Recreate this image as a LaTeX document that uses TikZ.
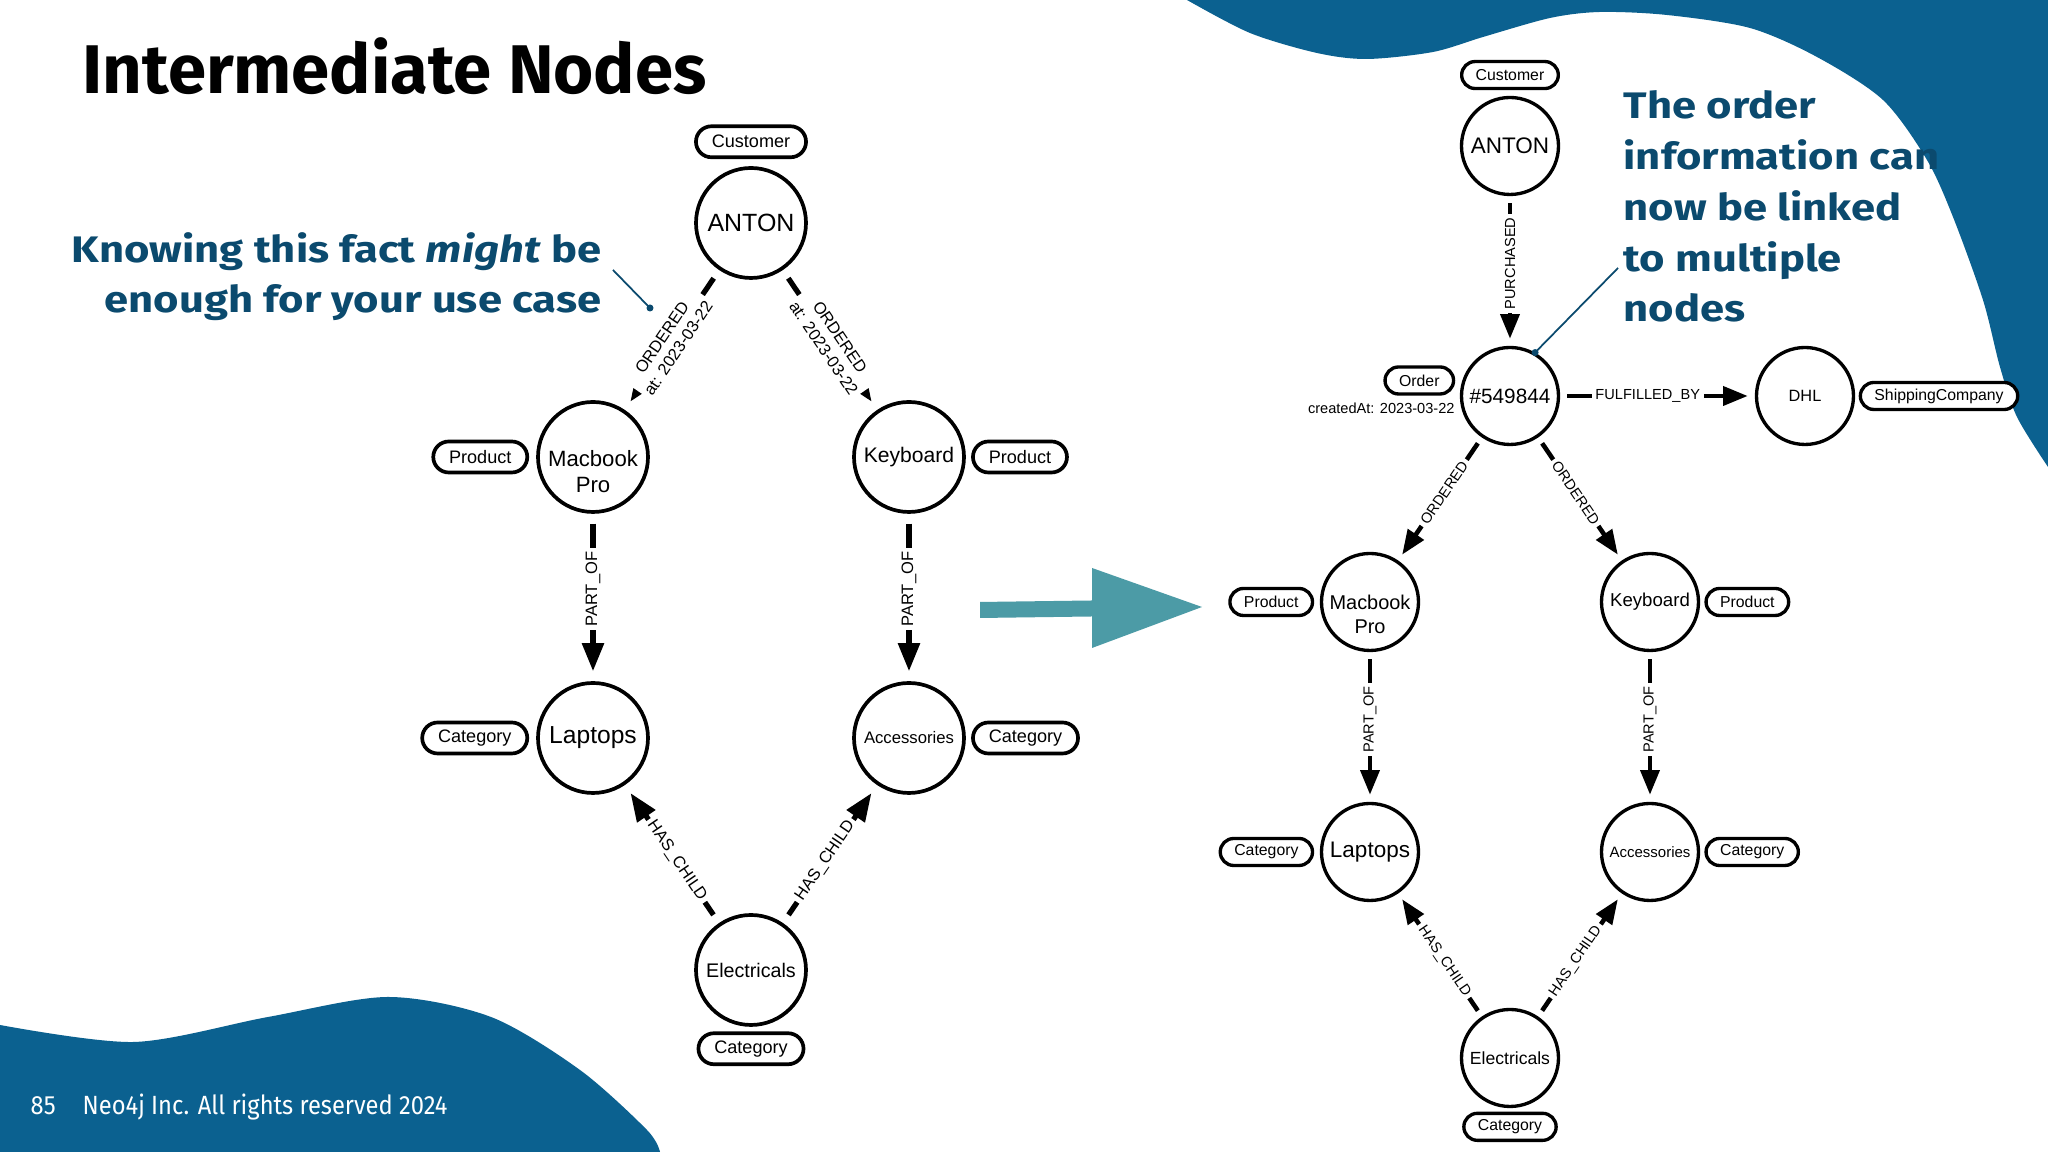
\documentclass[tikz,border=0pt]{standalone}
\usepackage{fontspec}
\setmainfont{Fira Sans}
\newfontfamily\neofont{Liberation Sans}
\newfontfamily\notefont[FakeStretch=1.18]{Fira Sans}
\newfontfamily\footfont[FakeStretch=0.9]{Fira Sans}
\usepackage{xcolor}
\usetikzlibrary{arrows.meta, positioning}
\definecolor{slideblue}{HTML}{0B6190}
\definecolor{inkblue}{HTML}{0B4A6E}
\definecolor{arrowteal}{HTML}{4C9BA6}
\newcommand{\fsz}[2]{\fontsize{#1}{#2}\selectfont}
\newcommand{\twolines}[3]{\raisebox{#1}[0pt][0pt]{\begin{tabular}{@{}c@{}}#2\\#3\end{tabular}}}

\begin{document}
\begin{tikzpicture}[>={Triangle[length=8pt, width=6pt]},
		lent/.style={circle, draw, line width=1.05pt, fill=white, inner sep=0pt, minimum size=1.1cm, align=center},
		rent/.style={circle, draw, line width=0.95pt, fill=white, inner sep=0pt, minimum size=0.97cm, align=center},
		ltag/.style={rectangle, draw, line width=1.05pt, fill=white, rounded corners=0.155cm, minimum height=0.31cm, inner xsep=4.5pt, inner ysep=0pt, font=\neofont\fsz{5.15}{6}},
		rtag/.style={rectangle, draw, line width=0.95pt, fill=white, rounded corners=0.135cm, minimum height=0.27cm, inner xsep=4pt, inner ysep=0pt, font=\neofont\fsz{4.5}{5.2}},
		lrel/.style={->, line width=1.5pt, shorten <=2.8pt, shorten >=2.8pt},
		rrel/.style={-{Triangle[length=7pt, width=5.3pt]}, line width=1.3pt, shorten <=2pt, shorten >=2pt},
		llbl/.style={pos=0.45, sloped, fill=white, inner sep=1pt, align=center, font=\neofont\fsz{4.7}{5.6}},
		rlbl/.style={pos=0.45, sloped, fill=white, inner sep=1pt, font=\neofont\fsz{4.15}{5}},
		note/.style={inner sep=0pt, inkblue, font=\notefont\fsz{10.5}{14.5}\bfseries},
		callout/.style={inkblue, line width=0.5pt}]
		
		% 1. 画布与背景色块
		\useasboundingbox (0,0) rectangle (20.48,11.52);
		\fill[white] (0,0) rectangle (20.48,11.52);
		\fill[slideblue] plot[smooth] coordinates {(11.87,11.52) (12.50,11.19) (13.17,10.99) (13.67,10.93) (14.33,11.00) (14.83,11.15) (15.50,11.34) (16.00,11.40) (16.67,11.37) (17.50,11.24) (18.17,10.95) (18.83,10.52) (19.27,9.92) (19.53,9.35) (19.83,8.52) (20.00,7.85) (20.17,7.35) (20.48,6.85)} -- (20.48,11.52) -- cycle;
		\fill[slideblue] plot[smooth] coordinates {(0,1.27) (1.34,1.10) (2.68,1.35) (3.88,1.55) (4.91,1.35) (5.80,0.82) (6.47,0.22) (6.60,0)} -- (0,0) -- cycle;
		
		% 2. 标题与页脚
		\node[anchor=base west, inner sep=0pt, font=\fsz{19.6}{22}\bfseries] (title) at (0.82,10.58) {Intermediate Nodes};
		\node[anchor=base west, inner sep=0pt, white, font=\footfont\fsz{7.5}{9}] (pageno) at (0.30,0.37) {85};
		\node[anchor=base west, inner sep=0pt, white, font=\footfont\fsz{7.5}{9}] (copyright) at (0.82,0.37) {Neo4j Inc. All rights reserved 2024};
		
		% 3. 说明文字 (多行节点的 base 取最后一行)
		\node[note, anchor=base east, align=right] (leftnote) at (6.02,8.39) {Knowing this fact \textit{might} be\\enough for your use case};
		\node[note, anchor=base west, align=left] (rightnote) at (16.23,8.30) {The order\\information can\\now be linked\\to multiple\\nodes};
		
		% 4. 左图: 节点
		\node[lent, font=\neofont\fsz{7.1}{8}] (lAnton) at (7.51,9.29) {ANTON};
		\node[ltag, above=2pt of lAnton] (lAntonTag) {Customer};
		\node[lent, font=\neofont\fsz{6.3}{7.4}] (lMac) at (5.93,6.95) {\twolines{-0.225cm}{Macbook}{Pro}};
		\node[ltag, left=2pt of lMac] (lMacTag) {Product};
		\node[lent, font=\neofont\fsz{6.0}{7}] (lKey) at (9.09,6.95) {Keyboard};
		\node[ltag, right=1.5pt of lKey] (lKeyTag) {Product};
		\node[lent, font=\neofont\fsz{7.0}{8}] (lLap) at (5.93,4.14) {Laptops};
		\node[ltag, left=2pt of lLap] (lLapTag) {Category};
		\node[lent, font=\neofont\fsz{4.75}{6}] (lAcc) at (9.09,4.14) {Accessories};
		\node[ltag, right=1.5pt of lAcc] (lAccTag) {Category};
		\node[lent, font=\neofont\fsz{5.6}{7}] (lElec) at (7.51,1.82) {Electricals};
		\node[ltag, below=1.3pt of lElec] (lElecTag) {Category};
		
		% 5. 左图: 关系
		\draw[lrel] (lAnton) -- node[llbl, pos=0.52] {ORDERED\\at: 2023-03-22} (lMac);
		\draw[lrel] (lAnton) -- node[llbl, pos=0.52] {ORDERED\\at: 2023-03-22} (lKey);
		\draw[lrel] (lMac) -- node[llbl, rotate=180] {PART\_OF} (lLap);
		\draw[lrel] (lKey) -- node[llbl, rotate=180] {PART\_OF} (lAcc);
		\draw[lrel] (lElec) -- node[llbl] {HAS\_CHILD} (lLap);
		\draw[lrel] (lElec) -- node[llbl] {HAS\_CHILD} (lAcc);
		
		% 6. 中间的转换箭头
		\fill[arrowteal] (9.80,5.50) -- (10.92,5.515) -- (10.92,5.84) -- (12.02,5.45) -- (10.92,5.04) -- (10.92,5.355) -- (9.80,5.34) -- cycle;
		
		% 7. 右图: 节点
		\node[rent, font=\neofont\fsz{6.4}{7.5}] (rAnton) at (15.10,10.06) {ANTON};
		\node[rtag, above=1.6pt of rAnton] (rAntonTag) {Customer};
		\node[rent, font=\neofont\fsz{5.9}{7}] (rOrd) at (15.10,7.56) {\#549844};
		\node[rtag, left=2pt of rOrd.162] (rOrdTag) {Order};
		\node[anchor=north east, inner sep=0pt, font=\neofont\fsz{4.15}{5}] (rOrdProp) at ([yshift=-2pt]rOrdTag.south east) {createdAt: 2023-03-22};
		\node[rent, font=\neofont\fsz{4.65}{5.5}] (rDhl) at (18.05,7.56) {DHL};
		\node[rtag, right=1pt of rDhl] (rDhlTag) {ShippingCompany};
		\node[rent, font=\neofont\fsz{5.67}{6.7}] (rMac) at (13.70,5.50) {\twolines{-0.2cm}{Macbook}{Pro}};
		\node[rtag, left=1.6pt of rMac] (rMacTag) {Product};
		\node[rent, font=\neofont\fsz{5.3}{6.3}] (rKey) at (16.50,5.50) {Keyboard};
		\node[rtag, right=1.2pt of rKey] (rKeyTag) {Product};
		\node[rent, font=\neofont\fsz{6.4}{7.5}] (rLap) at (13.70,3.00) {Laptops};
		\node[rtag, left=1.6pt of rLap] (rLapTag) {Category};
		\node[rent, font=\neofont\fsz{4.27}{5}] (rAcc) at (16.50,3.00) {Accessories};
		\node[rtag, right=1.2pt of rAcc] (rAccTag) {Category};
		\node[rent, font=\neofont\fsz{5.0}{6}] (rElec) at (15.10,0.94) {Electricals};
		\node[rtag, below=1pt of rElec] (rElecTag) {Category};
		
		% 8. 右图: 关系
		\draw[rrel] (rAnton) -- node[rlbl, rotate=180] {PURCHASED} (rOrd);
		\draw[rrel] (rOrd) -- node[rlbl] {FULFILLED\_BY} (rDhl);
		\draw[rrel] (rOrd) -- node[rlbl] {ORDERED} (rMac);
		\draw[rrel] (rOrd) -- node[rlbl] {ORDERED} (rKey);
		\draw[rrel] (rMac) -- node[rlbl, rotate=180] {PART\_OF} (rLap);
		\draw[rrel] (rKey) -- node[rlbl, rotate=180] {PART\_OF} (rAcc);
		\draw[rrel] (rElec) -- node[rlbl] {HAS\_CHILD} (rLap);
		\draw[rrel] (rElec) -- node[rlbl] {HAS\_CHILD} (rAcc);
		
		% 9. 指示线
		\coordinate (lTail) at (6.13,8.82);
		\coordinate (lTip) at (6.50,8.44);
		\coordinate (rTail) at (16.18,8.84);
		\draw[callout] (lTail) -- (lTip);
		\fill[inkblue] (lTip) circle (0.035);
		\draw[callout] (rTail) -- (rOrd.60);
		\fill[inkblue] (rOrd.60) circle (0.035);
		
	\end{tikzpicture}
\end{document}
